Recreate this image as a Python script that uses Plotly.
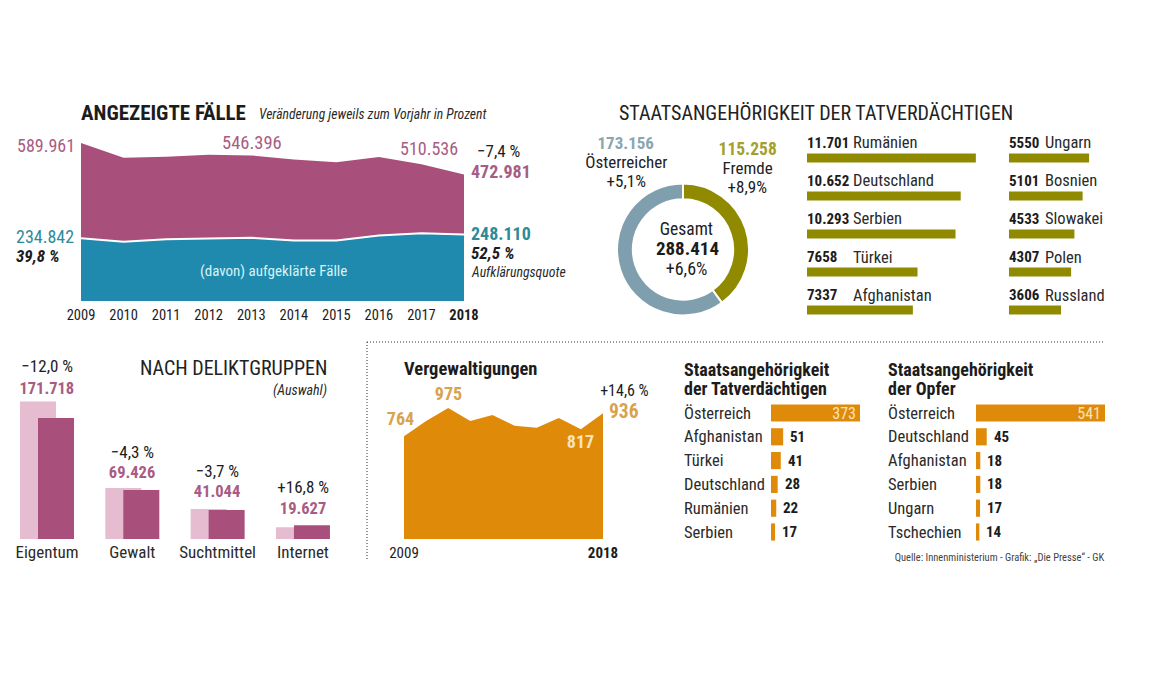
import plotly.graph_objects as go

W, H = 1152, 691
FONT = "Roboto, sans-serif"
BLACK = "#1c1c1c"
PURPLE = "#a8507b"
PURPLE_LIGHT = "#e6bcd0"
PURPLE_TXT = "#a85c84"
TEAL = "#1f8aad"
TEAL_TXT = "#2f8a98"
OLIVE = "#8f8a00"
OLIVE_TXT = "#a3a02c"
SLATE = "#7f9fae"
SLATE_TXT = "#8ba6ae"
ORANGE = "#e08a0a"
ORANGE_TXT = "#d8a24e"

# --- data ---
years = [2009, 2010, 2011, 2012, 2013, 2014, 2015, 2016, 2017, 2018]
year_labels = ["2009", "2010", "2011", "2012", "2013", "2014", "2015", "2016", "2017", "<b>2018</b>"]
angezeigt = [589961, 535000, 539000, 546396, 544000, 529000, 518000, 538000, 510536, 472981]
aufgeklaert = [234842, 221000, 231000, 234000, 236000, 226000, 226000, 245000, 253000, 248110]

donut_labels = ["Fremde", "Österreicher"]
donut_values = [115258, 173156]

nat1_names = ["Rumänien", "Deutschland", "Serbien", "Türkei", "Afghanistan"]
nat1_values = [11701, 10652, 10293, 7658, 7337]
nat1_texts = ["11.701", "10.652", "10.293", "7658", "7337"]
nat2_names = ["Ungarn", "Bosnien", "Slowakei", "Polen", "Russland"]
nat2_values = [5550, 5101, 4533, 4307, 3606]
nat2_texts = ["5550", "5101", "4533", "4307", "3606"]

delikt_names = ["Eigentum", "Gewalt", "Suchtmittel", "Internet"]
delikt_prev = [195134, 72546, 42621, 16804]
delikt_now = [171718, 69426, 41044, 19627]
delikt_texts = ["171.718", "69.426", "41.044", "19.627"]
delikt_pct = ["−12,0 %", "−4,3 %", "−3,7 %", "+16,8 %"]

rape_values = [764, 878, 975, 878, 923, 843, 828, 900, 817, 936]
rape_year_labels = ["2009", "<b>2018</b>"]

tv_names = ["Österreich", "Afghanistan", "Türkei", "Deutschland", "Rumänien", "Serbien"]
tv_values = [373, 51, 41, 28, 22, 17]
opfer_names = ["Österreich", "Deutschland", "Afghanistan", "Serbien", "Ungarn", "Tschechien"]
opfer_values = [541, 45, 18, 18, 17, 14]


def px(x):
    return x / W


def py(y):
    return 1 - y / H


def F(size, color=BLACK):
    return dict(family=FONT, size=size, color=color)


annotations = []


def text(x, y, s, size=16, color=BLACK, anchor="left", italic=False):
    if italic:
        s = f"<i>{s}</i>"
    annotations.append(dict(xref="paper", yref="paper", x=px(x), y=py(y), text=s, showarrow=False,
                            xanchor=anchor, yanchor="middle", align=anchor, borderpad=0, borderwidth=0,
                            font=F(size, color)))


def data_text(xa, ya, x, y, s, size=16, color=BLACK, anchor="center", xshift=0, yshift=0):
    annotations.append(dict(xref=xa, yref=ya, x=x, y=y, text=s, showarrow=False, xanchor=anchor, align=anchor,
                            yanchor="middle", xshift=xshift, yshift=yshift, borderpad=0, borderwidth=0,
                            font=F(size, color)))


fig = go.Figure()
layout_axes = {}


def axes(n, x0, x1, y0, y1):
    """n-th axis pair placed in a pixel rectangle."""
    xname = "xaxis" if n == 1 else f"xaxis{n}"
    yname = "yaxis" if n == 1 else f"yaxis{n}"
    xa = "x" if n == 1 else f"x{n}"
    ya = "y" if n == 1 else f"y{n}"
    layout_axes[xname] = dict(domain=[px(x0), px(x1)], anchor=ya, showgrid=False, zeroline=False,
                              showline=False, ticks="", showticklabels=False, fixedrange=True)
    layout_axes[yname] = dict(domain=[py(y1), py(y0)], anchor=xa, showgrid=False, zeroline=False,
                              showline=False, ticks="", showticklabels=False, fixedrange=True)
    return xa, ya, xname, yname


# --- area chart ---
xa, ya, xn, yn = axes(1, 81, 464, 127, 301)
fig.add_trace(go.Scatter(x=years, y=angezeigt, mode="lines", fill="tozeroy", fillcolor=PURPLE,
                         line=dict(color=PURPLE, width=0), xaxis=xa, yaxis=ya, hoverinfo="skip"))
fig.add_trace(go.Scatter(x=years, y=aufgeklaert, mode="lines", fill="tozeroy", fillcolor=TEAL,
                         line=dict(color="white", width=2), xaxis=xa, yaxis=ya, hoverinfo="skip"))
layout_axes[xn].update(range=[2009, 2018], showticklabels=True, tickvals=years, ticktext=year_labels,
                       tickfont=F(14.5), ticklabelstandoff=3)
layout_axes[yn].update(range=[0, 650000])

text(81, 113, "<b>ANGEZEIGTE FÄLLE</b>", 21)
text(259, 114, "Veränderung jeweils zum Vorjahr in Prozent", 13.7, "#2a2a2a", italic=True)
text(17, 145, "589.961", 18, PURPLE_TXT)
text(222, 143, "546.396", 18.5, PURPLE_TXT)
text(400, 148, "510.536", 18, PURPLE_TXT)
text(477, 151, "−7,4 %", 17, BLACK)
text(471, 172, "<b>472.981</b>", 18, PURPLE_TXT)
text(16, 236, "234.842", 18, TEAL_TXT)
text(16, 256, "<b>39,8 %</b>", 17, BLACK, italic=True)
text(471, 233, "<b>248.110</b>", 18, TEAL_TXT)
text(471, 253, "<b>52,5 %</b>", 17, BLACK, italic=True)
text(471, 272, "Aufklärungsquote", 13.8, "#2a2a2a", italic=True)
text(273, 271, "(davon) aufgeklärte Fälle", 15, "#d9f2f5", anchor="center")

# --- donut ---
fig.add_trace(go.Pie(labels=donut_labels, values=donut_values, hole=0.76, sort=False,
                     direction="clockwise", rotation=0, textinfo="none", hoverinfo="skip",
                     marker=dict(colors=[OLIVE, SLATE], line=dict(color="white", width=2)),
                     domain=dict(x=[px(617), px(749)], y=[py(316), py(183)]), showlegend=False))
text(619, 113, "STAATSANGEHÖRIGKEIT DER TATVERDÄCHTIGEN", 20, "#222222")
text(626, 143, "<b>173.156</b>", 17, SLATE_TXT, anchor="center")
text(626, 162, "Österreicher", 17, "#222222", anchor="center")
text(626, 181, "+5,1%", 17, BLACK, anchor="center")
text(747, 149, "<b>115.258</b>", 17.5, OLIVE_TXT, anchor="center")
text(747, 168, "Fremde", 17, "#222222", anchor="center")
text(747, 187, "+8,9%", 17, BLACK, anchor="center")
text(686, 229, "Gesamt", 17.5, "#222222", anchor="center")
text(687, 249, "<b>288.414</b>", 19, BLACK, anchor="center")
text(686, 268, "+6,6%", 18, BLACK, anchor="center")


# --- olive bars ---
def olive(n, x0, w, names, values, texts, name_x):
    xa, ya, xn, yn = axes(n, x0, x0 + w, 139, 329)
    fig.add_trace(go.Bar(y=names, x=values, orientation="h", width=0.24, marker=dict(color=OLIVE, line_width=0),
                         xaxis=xa, yaxis=ya, hoverinfo="skip", showlegend=False))
    layout_axes[xn].update(range=[0, w * 69.3])
    layout_axes[yn].update(type="category", categoryorder="array", categoryarray=names,
                           range=[len(names) - 0.5, -0.5])
    for nm, t in zip(names, texts):
        data_text(xa, ya, 0, nm, f"<b>{t}</b>", 15, BLACK, anchor="left", yshift=15)
        data_text(xa, ya, (name_x - x0) * 69.3, nm, nm, 16.5, "#2a2a2a", anchor="left", yshift=15)


olive(2, 807, 175, nat1_names, nat1_values, nat1_texts, 853)
olive(3, 1009, 100, nat2_names, nat2_values, nat2_texts, 1045)

# --- Delikt bars ---
xa, ya, xn, yn = axes(4, 4.35, 345.6, 390, 539)
BW = 36 / 85.3
OFF = 18 / 85.3
fig.add_trace(go.Bar(x=delikt_names, y=delikt_prev, width=BW, offset=-BW / 2 - OFF / 2,
                     marker=dict(color=PURPLE_LIGHT, line_width=0), xaxis=xa, yaxis=ya,
                     hoverinfo="skip", showlegend=False))
fig.add_trace(go.Bar(x=delikt_names, y=delikt_now, width=BW, offset=-BW / 2 + OFF / 2,
                     marker=dict(color=PURPLE, line_width=0), xaxis=xa, yaxis=ya,
                     hoverinfo="skip", showlegend=False))
layout_axes[xn].update(type="category", showticklabels=True, categoryorder="array", categoryarray=delikt_names,
                       tickfont=F(17, "#2a2a2a"), ticklabelstandoff=1)
layout_axes[yn].update(range=[0, 149 * 1419])
for nm, prev, now, t, p, s1, s2 in zip(delikt_names, delikt_prev, delikt_now, delikt_texts, delikt_pct,
                                       [13, 15, 17, 17], [35, 36, 38, 38]):
    top = max(prev, now)
    data_text(xa, ya, nm, top, f"<b>{t}</b>", 16.5, PURPLE_TXT, yshift=s1)
    data_text(xa, ya, nm, top, p, 17, BLACK, yshift=s2)
text(327, 368, "NACH DELIKTGRUPPEN", 20, "#222222", anchor="right")
text(327, 390, "(Auswahl)", 14, "#2a2a2a", anchor="right", italic=True)

# --- Rape area ---
xa, ya, xn, yn = axes(5, 404, 603, 400, 539)
fig.add_trace(go.Scatter(x=years, y=rape_values, mode="lines", fill="tozeroy", fillcolor=ORANGE,
                         line=dict(color=ORANGE, width=0), xaxis=xa, yaxis=ya, hoverinfo="skip",
                         showlegend=False))
layout_axes[xn].update(range=[2009, 2018], showticklabels=True, tickvals=[years[0], years[-1]],
                       ticktext=rape_year_labels, tickfont=F(15), ticklabelstandoff=3)
layout_axes[yn].update(range=[0, 139 * 7.44])
text(404, 369, "<b>Vergewaltigungen</b>", 18.5, BLACK)
text(400, 418, "<b>764</b>", 18, ORANGE_TXT, anchor="center")
text(448, 393, "<b>975</b>", 18, ORANGE_TXT, anchor="center")
text(580, 442, "<b>817</b>", 18, "#f7e3bd", anchor="center")
text(624, 412, "<b>936</b>", 19.5, ORANGE_TXT, anchor="center")
text(624, 390, "+14,6 %", 16, BLACK, anchor="center")


# --- orange bars ---
def orange(n, x0, w, names, values, label_x):
    xa, ya, xn, yn = axes(n, x0, x0 + w, 401.1, 543.9)
    fig.add_trace(go.Bar(y=list(range(len(names))), x=values, orientation="h", width=0.72,
                         marker=dict(color=ORANGE, line_width=0), xaxis=xa, yaxis=ya,
                         hoverinfo="skip", showlegend=False))
    layout_axes[xn].update(range=[0, max(values)])
    layout_axes[yn].update(range=[len(names) - 0.5, -0.5])
    for i, (nm, v) in enumerate(zip(names, values)):
        text(label_x, 413.0 + i * 23.8, nm, 16.5, "#2a2a2a")
        if i == 0:
            data_text(xa, ya, v, i, f"{v}", 16, "#f7e3bd", anchor="right", xshift=-4)
        else:
            data_text(xa, ya, v, i, f"<b>{v}</b>", 15, BLACK, anchor="left", xshift=7)


orange(6, 771, 89, tv_names, tv_values, 684)
orange(7, 976, 129, opfer_names, opfer_values, 888)
text(684, 369, "<b>Staatsangehörigkeit</b>", 18, BLACK)
text(684, 388, "<b>der Tatverdächtigen</b>", 18, BLACK)
text(888, 369, "<b>Staatsangehörigkeit</b>", 18, BLACK)
text(888, 388, "<b>der Opfer</b>", 18, BLACK)
text(1105, 557, "Quelle: Innenministerium - Grafik: „Die Presse“ - GK", 10.5, "#444444", anchor="right")

shapes = [
    dict(type="line", xref="paper", yref="paper", x0=px(367), x1=px(1105), y0=py(342), y1=py(342),
         line=dict(color="#333333", width=1, dash="1px,2px")),
    dict(type="line", xref="paper", yref="paper", x0=px(367), x1=px(367), y0=py(342), y1=py(560),
         line=dict(color="#333333", width=1, dash="1px,2px")),
]

fig.update_layout(width=W, height=H, margin=dict(l=0, r=0, t=0, b=0, autoexpand=False), paper_bgcolor="white",
                  plot_bgcolor="white", showlegend=False, barmode="overlay",
                  annotations=annotations, shapes=shapes, **layout_axes)
POST = """
document.body.style.margin='0';document.body.style.overflow='hidden';
var st=document.createElement('style');st.textContent='svg text{font-stretch:75% !important;}';
document.head.appendChild(st);
"""
fig.write_html("out.html", config=dict(displayModeBar=False), post_script=POST)
